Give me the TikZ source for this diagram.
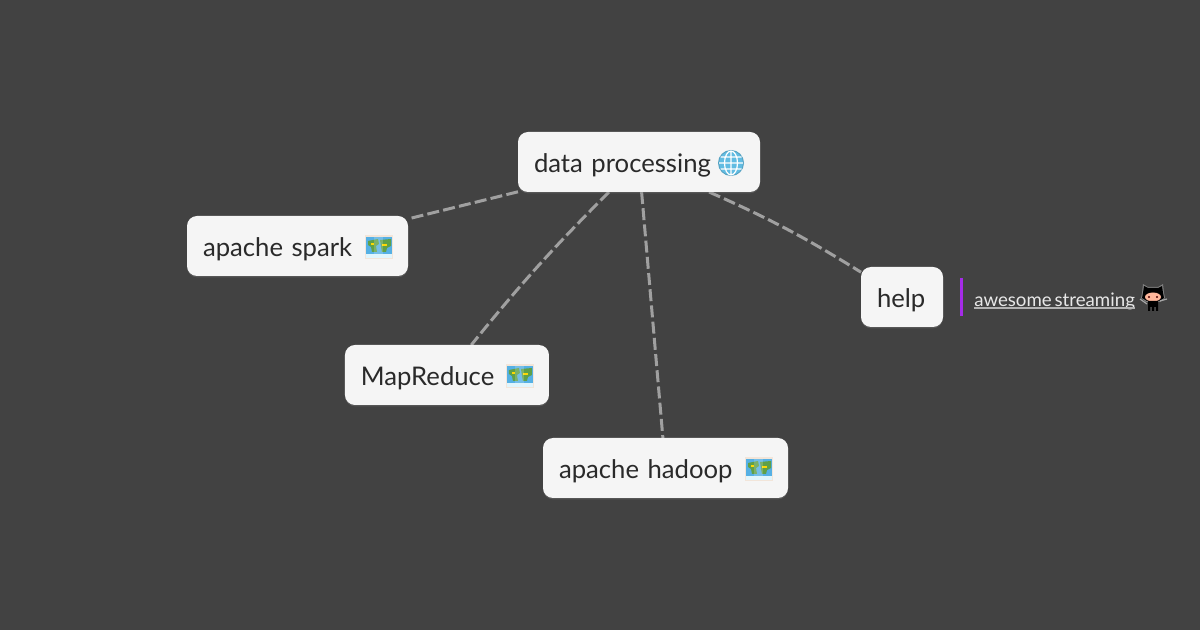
\documentclass[tikz,border=0pt]{standalone}
\usepackage{fontspec}
\setmainfont[WordSpace=0.6]{Lato}
\usetikzlibrary{positioning}
\usetikzlibrary{shadows}
\usetikzlibrary{backgrounds}
\definecolor{boardbg}{HTML}{424242}
\definecolor{topicfill}{HTML}{F5F5F5}
\definecolor{topictext}{HTML}{2A2A2A}
\definecolor{edgegray}{HTML}{A0A0A0}
\definecolor{barpurple}{HTML}{A52BE8}
\definecolor{linktext}{HTML}{E8E8E8}
\definecolor{seablue}{HTML}{55B0E4}
\definecolor{landgreen}{HTML}{5FA048}
\definecolor{globeblue}{HTML}{62BCE2}
\tikzstyle{topic}=[rectangle,rounded corners=7.5pt,fill=topicfill,text=topictext,font=\fontsize{19.25pt}{22pt}\selectfont,minimum height=45pt,inner xsep=12pt,inner ysep=0pt,outer sep=0pt,text height=16.9pt,text depth=1.5pt,align=left,drop shadow={shadow xshift=0pt,shadow yshift=-1pt,opacity=.35}]
\tikzstyle{topicedge}=[draw=edgegray,line width=2.25pt,dash pattern=on 9pt off 3.2pt]
\tikzstyle{linktopic}=[font=\fontsize{14pt}{16pt}\selectfont,text=linktext,inner sep=0pt,text height=11pt,text depth=1.5pt]
\tikzset{
	mapicon/.pic={
		\fill[white!80!brown] (-14,-12) rectangle (14,12);
		\fill[seablue] (-13,-10) rectangle (13,7);
		\fill[cyan!12!white] (-13,7) rectangle (13,11);
		\fill[landgreen] (-11,-6) -- (-1,-8) -- (0,-3) -- (-3,-1) -- (-2,5) -- (-7,5) -- (-8,0) -- (-11,-2) -- cycle;
		\fill[landgreen] (1,-7) -- (12,-8) -- (12,-1) -- (8,1) -- (7,5) -- (3,5) -- (2,0) -- cycle;
		\fill[yellow!75!orange] (3,-3) rectangle (8,-1);
		\fill[yellow!75!orange] (-8,-4) rectangle (-5,-2);
		\fill[white,opacity=.18] (-5,-10) rectangle (4,7);
	},
	globeicon/.pic={
		\fill[globeblue!85!black] (0,0) circle (13);
		\fill[globeblue] (0,0) circle (12);
		\draw[white,line width=.9pt] (0,0) circle (6.5 and 12) (-12,0) -- (12,0) (-10.5,-6) -- (10.5,-6) (-10.5,6) -- (10.5,6) (0,-12) -- (0,12);
	},
	cathead/.pic={
		\fill[gray] (-11,-5) -- (-10,-14) -- (-5,-11) -- (5,-11) -- (10,-14) -- (11,-5) -- (12,0) -- (7,4) -- (-7,4) -- (-12,0) -- cycle;
		\fill[black] (-10,-5) -- (-9,-12) -- (-5,-10) -- (5,-10) -- (9,-12) -- (10,-5) -- (11,0) -- (6,3) -- (-6,3) -- (-11,0) -- cycle;
		\fill[orange!25!pink!90!white] (0,-1) ellipse (8 and 4.5);
		\fill[black!70!red] (-4,-1) circle (1.2) (4,-1) circle (1.2);
		\fill[black] (-5,3) rectangle (5,9) (-5,9) rectangle (-3,13) (-1,9) rectangle (1,13) (3,9) rectangle (5,13);
		\draw[gray!70!white,line width=.9pt] (-13,1) -- (-6,6) (7,3) -- (14,1);
	},
}
\begin{document}
\begin{tikzpicture}[x=.75pt,y=-.75pt]
	
	\useasboundingbox (0,0) rectangle (1200,630);
	
	\node (dp) [topic,minimum width=181.5pt,text width=157.5pt] at (639,162) {data processing};
	\node (spark) [topic,minimum width=165.75pt,text width=141.75pt,below left=18pt and 82.5pt of dp] {apache spark};
	\node (mapred) [topic,minimum width=153pt,text width=129pt,below=51.75pt of spark,xshift=112.1pt] {MapReduce};
	\node (hadoop) [topic,minimum width=183.75pt,text width=159.75pt,below=24.75pt of mapred,xshift=163.9pt] {apache hadoop};
	\node (help) [topic,minimum width=61.5pt,text width=37.5pt,below right=56.25pt and 75.75pt of dp] {help};
	\node (link) [linktopic,anchor=west] at (974,299.7) {awesome streaming\ };
	
	\begin{scope}[on background layer]
		\fill[boardbg] (0,0) rectangle (1200,630);
		\path[topicedge]
			(dp) edge (spark)
			(dp) edge[bend right=3] (mapred)
			(dp) edge (hadoop)
			(dp) edge[bend left=4] (help);
	\end{scope}
	
	\fill[barpurple] ([xshift=12.75pt,yshift=14.25pt]help.east) rectangle ([xshift=15pt,yshift=-14.25pt]help.east);
	\draw[edgegray!80!white,line width=1.2pt] (link.south west) -- (link.south east);
	
	\pic at ([xshift=-21.75pt,yshift=-.75pt]dp.east) {globeicon};
	\pic at ([xshift=-21.75pt,yshift=-.75pt]spark.east) {mapicon};
	\pic at ([xshift=-21.75pt,yshift=-.75pt]mapred.east) {mapicon};
	\pic at ([xshift=-21.75pt,yshift=-.75pt]hadoop.east) {mapicon};
	\pic at (1153,298) {cathead};
\end{tikzpicture}
\end{document}
